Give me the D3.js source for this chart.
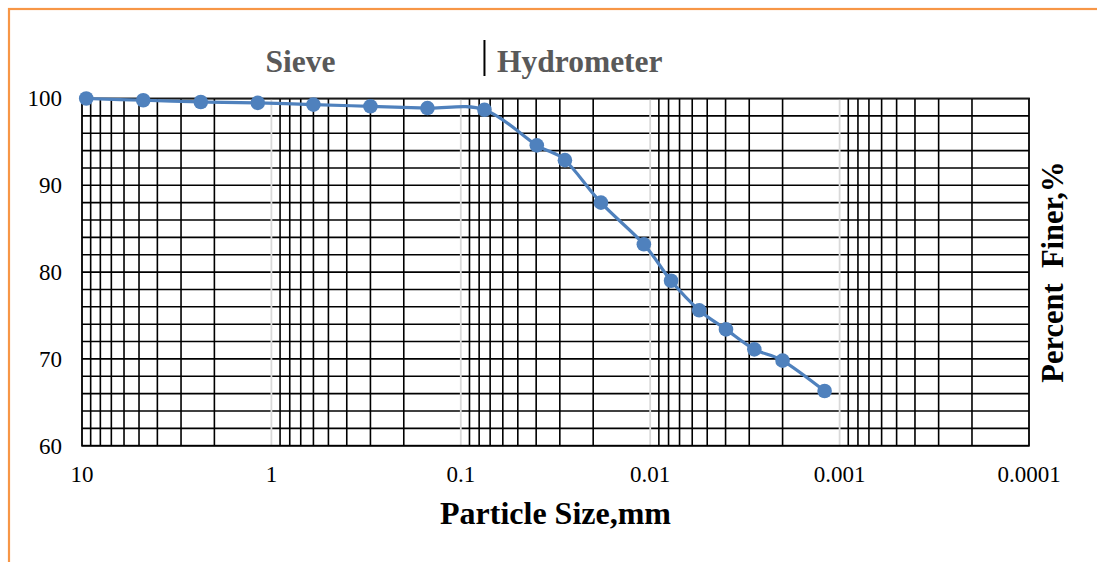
<!DOCTYPE html>
<html>
<head>
<meta charset="utf-8">
<script src="https://cdn.jsdelivr.net/npm/d3@7"></script>
<style>
  html, body { margin: 0; padding: 0; background: #fff; }
  svg { display: block; }
</style>
</head>
<body>
<script>
// Grain-size distribution: sieve analysis followed by hydrometer analysis
const sieveSizes = [9.5, 4.75, 2.36, 1.18, 0.6, 0.3, 0.15, 0.075];          // mm
const sieveFiner = [100, 99.8, 99.6, 99.5, 99.3, 99.1, 98.9, 98.7];          // %
const hydroSizes = [0.0397, 0.0282, 0.0182, 0.0108, 0.00776, 0.00551, 0.00398, 0.00282, 0.0020, 0.0012]; // mm
const hydroFiner = [94.6, 92.9, 88.0, 83.2, 79.0, 75.6, 73.4, 71.1, 69.8, 66.3]; // %
const sieveLimit = 0.075;                                                     // mm, No. 200 sieve
const xTicks = [10, 1, 0.1, 0.01, 0.001, 0.0001];
const xTickLabels = ["10", "1", "0.1", "0.01", "0.001", "0.0001"];
const yTicks = [60, 70, 80, 90, 100];
const yTickLabels = ["60", "70", "80", "90", "100"];

const W = 1097, H = 562;
const serif = "'Liberation Serif', 'Times New Roman', serif";
const blue = "#4f81bd";

const svg = d3.select("body").append("svg")
  .attr("width", W).attr("height", H);

svg.append("rect").attr("width", W).attr("height", H).attr("fill", "#fff");

// chart frame (only top and left edges fall inside the page)
svg.append("rect")
  .attr("x", 9).attr("y", 9)
  .attr("width", W + 20).attr("height", H + 20)
  .attr("fill", "none").attr("stroke", "#f79646").attr("stroke-width", 2.2);

const x = d3.scaleLog().domain([10, 0.0001]).range([82, 1029]);
const y = d3.scaleLinear().domain([60, 100]).range([445.7, 98.5]);

const [x0, x1] = x.range();
const [y0, y1] = y.range();

const grid = svg.append("g");

// horizontal grid every 2 %
const hLines = d3.range(60, 100.001, 2);
grid.selectAll("line.h").data(hLines).join("line")
  .attr("class", "h")
  .attr("x1", x0).attr("x2", x1)
  .attr("y1", d => y(d)).attr("y2", d => y(d))
  .attr("stroke", "#000").attr("stroke-width", 1.6);

// minor vertical grid: 2..9 within each decade
const minors = [];
for (let e = 0; e >= -4; e--) {
  for (let m = 2; m <= 9; m++) minors.push(+(m * Math.pow(10, e)).toPrecision(6));
}
grid.selectAll("line.vm").data(minors).join("line")
  .attr("class", "vm")
  .attr("x1", d => x(d)).attr("x2", d => x(d))
  .attr("y1", y0).attr("y2", y1)
  .attr("stroke", "#000").attr("stroke-width", 1.6);

// major vertical grid at interior decades
const majors = xTicks.slice(1, -1);
grid.selectAll("line.vM").data(majors).join("line")
  .attr("class", "vM")
  .attr("x1", d => x(d)).attr("x2", d => x(d))
  .attr("y1", y0).attr("y2", y1)
  .attr("stroke", "#d9d9d9").attr("stroke-width", 1.8);

// plot area border
svg.append("rect")
  .attr("x", x0).attr("y", y1)
  .attr("width", x1 - x0).attr("height", y0 - y1)
  .attr("fill", "none").attr("stroke", "#000").attr("stroke-width", 1.8);
svg.append("line")
  .attr("x1", x0).attr("x2", x1).attr("y1", y1 - 0.8).attr("y2", y1 - 0.8)
  .attr("stroke", "#a6a6a6").attr("stroke-width", 0.8);

// axis tick labels
svg.append("g").selectAll("text").data(xTicks).join("text")
  .attr("x", d => x(d)).attr("y", 482)
  .attr("text-anchor", "middle")
  .attr("font-family", serif).attr("font-size", 23).attr("fill", "#000")
  .text((d, i) => xTickLabels[i]);

svg.append("g").selectAll("text").data(yTicks).join("text")
  .attr("x", 62).attr("y", d => y(d) + 7.8)
  .attr("text-anchor", "end")
  .attr("font-family", serif).attr("font-size", 23).attr("fill", "#000")
  .text((d, i) => yTickLabels[i]);

// axis titles
svg.append("text")
  .attr("x", (x0 + x1) / 2).attr("y", 524)
  .attr("text-anchor", "middle")
  .attr("font-family", serif).attr("font-weight", "bold").attr("font-size", 32)
  .attr("fill", "#000")
  .text("Particle Size,mm");

svg.append("text")
  .attr("transform", `translate(1063,${(y0 + y1) / 2}) rotate(-90)`)
  .attr("text-anchor", "middle")
  .attr("font-family", serif).attr("font-weight", "bold").attr("font-size", 30.5)
  .attr("fill", "#000")
  .attr("xml:space", "preserve")
  .style("white-space", "pre")
  .text("Percent  Finer,%");

// method annotations
svg.append("text")
  .attr("x", 300.5).attr("y", 72)
  .attr("text-anchor", "middle")
  .attr("font-family", serif).attr("font-weight", "bold").attr("font-size", 31.5)
  .attr("fill", "#595959")
  .text("Sieve");

svg.append("line")
  .attr("x1", x(sieveLimit)).attr("x2", x(sieveLimit))
  .attr("y1", 40).attr("y2", 76)
  .attr("stroke", "#000").attr("stroke-width", 2);

svg.append("text")
  .attr("x", x(sieveLimit) + 12.5).attr("y", 72)
  .attr("font-family", serif).attr("font-weight", "bold").attr("font-size", 31.5)
  .attr("fill", "#595959")
  .text("Hydrometer");

// gradation curve
const pts = sieveSizes.map((d, i) => [d, sieveFiner[i]])
  .concat(hydroSizes.map((d, i) => [d, hydroFiner[i]]));

const line = d3.line()
  .x(d => x(d[0])).y(d => y(d[1]))
  .curve(d3.curveCardinal.tension(0));

svg.append("path")
  .datum(pts)
  .attr("d", line)
  .attr("fill", "none").attr("stroke", blue).attr("stroke-width", 3.2)
  .attr("stroke-linejoin", "round");

svg.append("g").selectAll("circle").data(pts).join("circle")
  .attr("cx", d => x(d[0])).attr("cy", d => y(d[1]))
  .attr("r", 7.3)
  .attr("fill", blue);
</script>
</body>
</html>
